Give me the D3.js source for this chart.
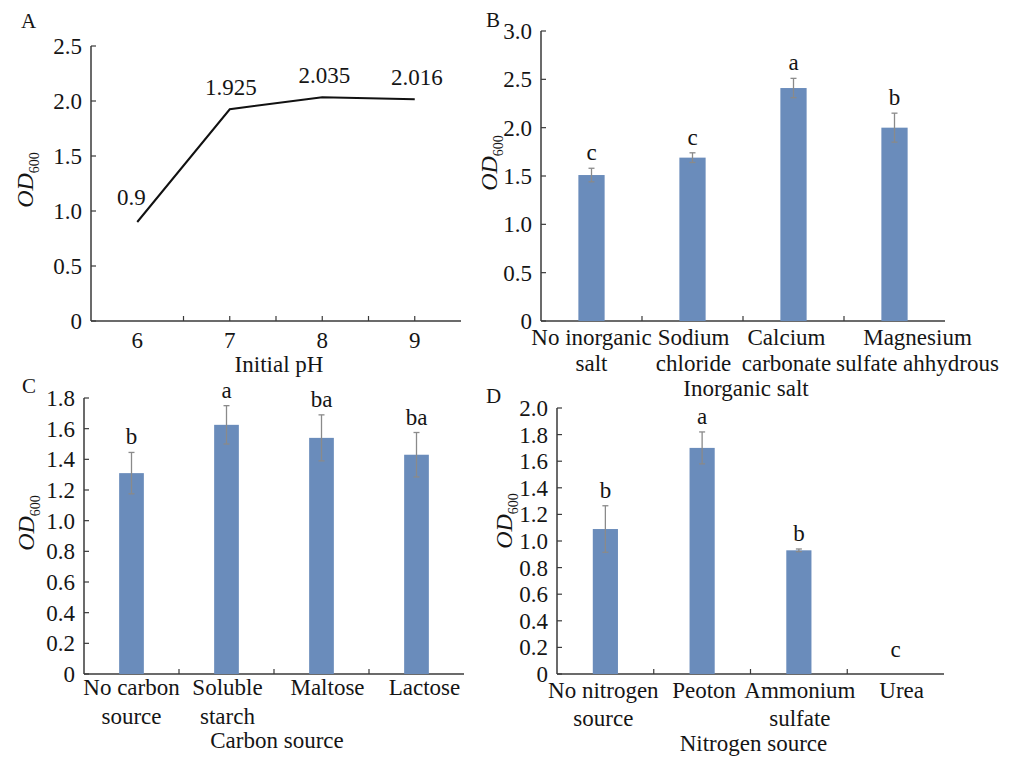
<!DOCTYPE html>
<html>
<head>
<meta charset="utf-8">
<script src="https://cdn.jsdelivr.net/npm/d3@7"></script>
<style>
  body { margin: 0; background: #fff; }
  text { font-family: "Liberation Serif", "Times New Roman", serif; fill: #151515; }
</style>
</head>
<body>
<script>
// panel A: line chart of OD600 vs initial pH
const phLevels = ['6', '7', '8', '9']
const phOD = [0.9, 1.925, 2.035, 2.016]

// panel B: inorganic salt
const saltCats = [['No inorganic', 'salt'], ['Sodium', 'chloride'], ['Calcium', 'carbonate'], ['Magnesium', 'sulfate ahhydrous']]
const saltOD = [1.51, 1.69, 2.41, 2.00]
const saltErr = [0.07, 0.05, 0.10, 0.15]
const saltSig = ['c', 'c', 'a', 'b']

// panel C: carbon source
const carbonCats = [['No carbon', 'source'], ['Soluble', 'starch'], ['Maltose'], ['Lactose']]
const carbonOD = [1.31, 1.625, 1.54, 1.43]
const carbonErr = [0.135, 0.125, 0.15, 0.145]
const carbonSig = ['b', 'a', 'ba', 'ba']

// panel D: nitrogen source
const nitroCats = [['No nitrogen', 'source'], ['Peoton'], ['Ammonium', 'sulfate'], ['Urea']]
const nitroOD = [1.09, 1.70, 0.93, 0]
const nitroErr = [0.175, 0.12, 0.01, 0]
const nitroSig = ['b', 'a', 'b', 'c']

const width = 1033
const height = 757
const barColor = '#6a8cbb'
const axisColor = '#3a3a3a'
const errColor = '#8a8a8a'
const fontSize = 23

const svg = d3.select('body').append('svg')
  .attr('width', width)
  .attr('height', height)

const fmt = v => (v === 0 ? '0' : v.toFixed(1))

// axes frame shared by all four panels
const drawFrame = function (p) {
  const g = svg.append('g')
  const y = d3.scaleLinear().domain([0, p.yMax]).range([p.box.bottom, p.box.top])
  const x = d3.scaleBand().domain(d3.range(p.n)).range([p.box.left, p.box.right])

  // y ticks point inward (to the right)
  const yTicks = d3.range(0, p.yMax + 1e-9, p.yStep)
  g.selectAll('.ytick').data(yTicks).join('line')
    .attr('x1', p.box.left).attr('x2', p.box.left + 5)
    .attr('y1', d => y(d)).attr('y2', d => y(d))
    .attr('stroke', axisColor).attr('stroke-width', 1.2)
  g.selectAll('.ylab').data(yTicks).join('text')
    .attr('x', p.box.left - 9)
    .attr('y', d => y(d))
    .attr('dy', '0.35em')
    .attr('text-anchor', 'end')
    .attr('font-size', fontSize)
    .text(fmt)

  // x ticks between categories, pointing up
  const xTicks = p.xTicks(x)
  g.selectAll('.xtick').data(xTicks).join('line')
    .attr('x1', d => d).attr('x2', d => d)
    .attr('y1', p.box.bottom).attr('y2', p.box.bottom - 5)
    .attr('stroke', axisColor).attr('stroke-width', 1.2)

  g.append('line')
    .attr('x1', p.box.left).attr('x2', p.box.left)
    .attr('y1', p.box.top).attr('y2', p.box.bottom)
    .attr('stroke', axisColor).attr('stroke-width', 1.5)
  g.append('line')
    .attr('x1', p.box.left).attr('x2', p.box.right)
    .attr('y1', p.box.bottom).attr('y2', p.box.bottom)
    .attr('stroke', axisColor).attr('stroke-width', 1.5)

  // y axis title OD600
  const yt = g.append('text')
    .attr('transform', `translate(${p.yTitle[0]},${p.yTitle[1]}) rotate(-90)`)
    .attr('text-anchor', 'middle')
    .attr('font-size', 24)
  yt.append('tspan').attr('font-style', 'italic').text('OD')
  yt.append('tspan').attr('font-size', 14).attr('dy', 6).text('600')

  // x axis title
  g.append('text')
    .attr('x', (p.box.left + p.box.right) / 2 + 3)
    .attr('y', p.xTitleY)
    .attr('text-anchor', 'middle')
    .attr('font-size', fontSize)
    .text(p.xTitle)

  // panel letter
  g.append('text')
    .attr('x', p.letter[0]).attr('y', p.letter[1])
    .attr('font-size', 21)
    .text(p.id)

  return { g, x, y }
}

const barTicks = x => x.domain().slice(1).map(d => x(d))

const drawBarPanel = function (p) {
  const { g, x, y } = drawFrame(Object.assign({ n: p.cats.length, xTicks: barTicks }, p))
  const bw = x.bandwidth() * 0.26
  const cx = i => x(i) + x.bandwidth() / 2

  g.selectAll('.bar').data(p.values).join('rect')
    .attr('x', (d, i) => cx(i) - bw / 2)
    .attr('y', d => y(d))
    .attr('width', bw)
    .attr('height', d => y(0) - y(d))
    .attr('fill', barColor)

  // error bars
  p.values.forEach((v, i) => {
    const e = p.errors[i]
    if (e <= 0) return
    const lo = y(v - e)
    const hi = y(v + e)
    g.append('line')
      .attr('x1', cx(i)).attr('x2', cx(i)).attr('y1', lo).attr('y2', hi)
      .attr('stroke', errColor).attr('stroke-width', 1.3)
    ;[lo, hi].forEach(yy => {
      g.append('line')
        .attr('x1', cx(i) - 3).attr('x2', cx(i) + 3).attr('y1', yy).attr('y2', yy)
        .attr('stroke', errColor).attr('stroke-width', 1.3)
    })
  })

  // significance letters
  g.selectAll('.sig').data(p.sig).join('text')
    .attr('x', (d, i) => cx(i))
    .attr('y', (d, i) => y(p.values[i] + p.errors[i]) - (p.values[i] === 0 ? 17 : 8))
    .attr('text-anchor', 'middle')
    .attr('font-size', fontSize)
    .text(d => d)

  // category labels (one or two lines)
  p.cats.forEach((lines, i) => {
    lines.forEach((s, k) => {
      g.append('text')
        .attr('x', cx(i) + p.labelDx[i])
        .attr('y', p.catY[k])
        .attr('text-anchor', 'middle')
        .attr('font-size', fontSize)
        .text(s)
    })
  })
}

// ---- panel A ----
const ptLabelOffset = [[-6, -17], [1, -14], [2, -14], [2, -14]]
const panelA = drawFrame({
  id: 'A',
  n: phLevels.length,
  yMax: 2.5,
  yStep: 0.5,
  box: { left: 91, right: 461, top: 46, bottom: 321 },
  xTicks: x => {
    const half = x.bandwidth() / 2
    return d3.range(1, 2 * phLevels.length - 2 + 1).map(k => x.range()[0] + half * (k + 1))
  },
  yTitle: [33, 180],
  xTitle: 'Initial pH',
  xTitleY: 372,
  letter: [21, 28]
})
{
  const { g, x, y } = panelA
  const px = i => x(i) + x.bandwidth() / 2
  g.append('path')
    .datum(phOD)
    .attr('d', d3.line().x((d, i) => px(i)).y(d => y(d)))
    .attr('fill', 'none')
    .attr('stroke', '#111')
    .attr('stroke-width', 2)
  g.selectAll('.ptlab').data(phOD).join('text')
    .attr('x', (d, i) => px(i) + ptLabelOffset[i][0])
    .attr('y', (d, i) => y(d) + ptLabelOffset[i][1])
    .attr('text-anchor', 'middle')
    .attr('font-size', fontSize)
    .text(d => String(d))
  g.selectAll('.xlab').data(phLevels).join('text')
    .attr('x', (d, i) => px(i))
    .attr('y', 348)
    .attr('text-anchor', 'middle')
    .attr('font-size', fontSize)
    .text(d => d)
}

// ---- panel B ----
drawBarPanel({
  id: 'B',
  cats: saltCats, values: saltOD, errors: saltErr, sig: saltSig,
  yMax: 3.0, yStep: 0.5,
  box: { left: 541, right: 945, top: 31, bottom: 321 },
  yTitle: [497, 163],
  xTitle: 'Inorganic salt',
  xTitleY: 396,
  letter: [486, 27],
  catY: [345, 371],
  labelDx: [0, 1, -7, 23]
})

// ---- panel C ----
drawBarPanel({
  id: 'C',
  cats: carbonCats, values: carbonOD, errors: carbonErr, sig: carbonSig,
  yMax: 1.8, yStep: 0.2,
  box: { left: 84, right: 464, top: 398, bottom: 674 },
  yTitle: [34, 523],
  xTitle: 'Carbon source',
  xTitleY: 748,
  letter: [22, 393],
  catY: [695, 724],
  labelDx: [0, 1, 6, 8]
})

// ---- panel D ----
drawBarPanel({
  id: 'D',
  cats: nitroCats, values: nitroOD, errors: nitroErr, sig: nitroSig,
  yMax: 2.0, yStep: 0.2,
  box: { left: 557, right: 944, top: 408, bottom: 674 },
  yTitle: [512, 521],
  xTitle: 'Nitrogen source',
  xTitleY: 751,
  letter: [486, 403],
  catY: [698, 726],
  labelDx: [-2, 2, 1, 6]
})
</script>
</body>
</html>
